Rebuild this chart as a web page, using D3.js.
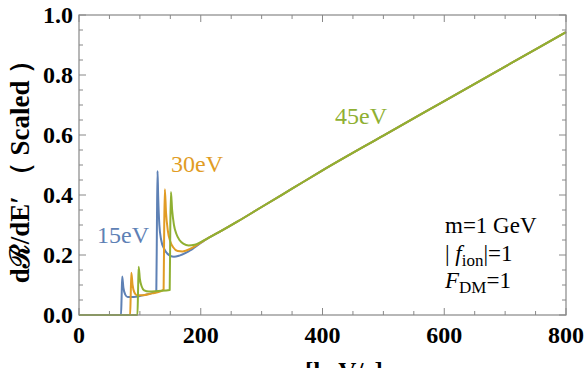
<!DOCTYPE html>
<html lang="en">
<head>
<meta charset="UTF-8">
<title>dR/dE' scaled</title>
<script src="https://d3js.org/d3.v7.min.js"></script>
<style>
  body { margin: 0; background: #fff; }
  svg { display: block; }
  .tick-label { font-family: "Liberation Serif", "DejaVu Serif", serif; font-weight: 700; font-size: 24px; fill: #000; }
  .note { font-family: "Liberation Serif", "DejaVu Serif", serif; font-size: 23px; fill: #000; }
</style>
</head>
<body>
<svg id="chart" width="586" height="368"></svg>
<script>
// curve data: momentum transfer (x) and scaled rate (y)
const blueE    = [0, 69, 70, 71, 73, 76, 80, 90, 100, 110, 120, 127, 128, 129, 130, 132, 135, 140, 145, 150, 156, 165, 180, 200];
const blueRate = [0, 0, 0.06, 0.128, 0.09, 0.068, 0.06, 0.06, 0.063, 0.068, 0.073, 0.078, 0.3, 0.48, 0.4, 0.3, 0.25, 0.22, 0.205, 0.197, 0.194, 0.198, 0.212, 0.24];

const orangeE    = [0, 84, 85, 86, 88, 91, 95, 105, 120, 135, 139, 140, 141, 143, 146, 150, 155, 162, 170, 185, 200];
const orangeRate = [0, 0, 0.07, 0.141, 0.1, 0.075, 0.066, 0.066, 0.072, 0.08, 0.085, 0.3, 0.419, 0.34, 0.28, 0.245, 0.225, 0.213, 0.212, 0.223, 0.241];

const greenE    = [0, 96, 97, 98, 100, 103, 107, 115, 130, 149, 150, 151, 153, 156, 160, 165, 172, 180, 190, 200];
const greenRate = [0, 0, 0.08, 0.161, 0.12, 0.095, 0.082, 0.078, 0.08, 0.083, 0.3, 0.41, 0.35, 0.3, 0.27, 0.25, 0.237, 0.232, 0.234, 0.243];

// shared part above ~200
const tailE    = [210, 230, 260, 300, 350, 400, 500, 600, 700, 800];
const tailRate = [0.254, 0.276, 0.311, 0.36, 0.421, 0.482, 0.598, 0.713, 0.828, 0.943];

const seriesNames  = ["15eV", "30eV", "45eV"];
const seriesColors = ["#5e81b5", "#e19c24", "#8fb032"];

const xTicks = [0, 200, 400, 600, 800];
const yTicks = [0, 0.2, 0.4, 0.6, 0.8, 1.0];

const svg = d3.select("#chart");
const margin = { left: 79, right: 20, top: 15, bottom: 53 };
const W = 586, H = 368;

const x = d3.scaleLinear().domain([0, 800]).range([margin.left, W - margin.right]);
const y = d3.scaleLinear().domain([0, 1]).range([H - margin.bottom, margin.top]);

const frameColor = "#888";

// ticks (inward, on all four sides)
const minorX = d3.range(0, 801, 50);
const minorY = d3.range(0, 1.001, 0.05);
const tk = svg.append("g").attr("stroke", frameColor).attr("stroke-width", 1);
minorX.forEach(v => {
  const len = v % 200 === 0 ? 7 : 4;
  tk.append("line").attr("x1", x(v)).attr("x2", x(v)).attr("y1", y(0)).attr("y2", y(0) - len);
  tk.append("line").attr("x1", x(v)).attr("x2", x(v)).attr("y1", y(1)).attr("y2", y(1) + len);
});
minorY.forEach(v => {
  const major = Math.abs(v * 5 - Math.round(v * 5)) < 1e-6;
  const len = major ? 7 : 4;
  tk.append("line").attr("x1", x(0)).attr("x2", x(0) + len).attr("y1", y(v)).attr("y2", y(v));
  tk.append("line").attr("x1", x(800)).attr("x2", x(800) - len).attr("y1", y(v)).attr("y2", y(v));
});

// curves
const line = d3.line().x(d => x(d[0])).y(d => y(d[1])).curve(d3.curveMonotoneX);
const seriesE = [blueE, orangeE, greenE];
const seriesRate = [blueRate, orangeRate, greenRate];
seriesE.forEach((es, i) => {
  const pts = es.map((e, j) => [e, seriesRate[i][j]])
    .concat(tailE.map((e, j) => [e, tailRate[j]]));
  svg.append("path")
    .datum(pts)
    .attr("fill", "none")
    .attr("stroke", seriesColors[i])
    .attr("stroke-width", 2)
    .attr("stroke-linejoin", "round")
    .attr("d", line);
});

// frame
svg.append("rect")
  .attr("x", x(0)).attr("y", y(1))
  .attr("width", x(800) - x(0)).attr("height", y(0) - y(1))
  .attr("fill", "none").attr("stroke", frameColor).attr("stroke-width", 1.2);

// tick labels
svg.selectAll(".xl").data(xTicks).enter().append("text")
  .attr("class", "tick-label")
  .attr("x", d => x(d)).attr("y", y(0) + 28)
  .attr("text-anchor", "middle")
  .text(d => d);
svg.selectAll(".yl").data(yTicks).enter().append("text")
  .attr("class", "tick-label")
  .attr("x", x(0) - 6).attr("y", d => y(d) + 8)
  .attr("text-anchor", "end")
  .text(d => d.toFixed(1));

// axis titles
svg.append("text")
  .attr("class", "tick-label")
  .style("font-size", "27px")
  .attr("transform", `translate(29, ${(y(0) + y(1)) / 2}) rotate(-90)`)
  .attr("text-anchor", "middle")
  .text("dℛ/dE′ （ Scaled ）");
svg.append("text")
  .attr("class", "tick-label")
  .style("font-size", "25px")
  .attr("x", 305).attr("y", 380)
  .text("[keV/c]");

// curve labels
const labelPos = [[97, 243], [171, 172], [335, 124]];
seriesNames.forEach((n, i) => {
  svg.append("text")
    .attr("class", "note")
    .style("font-size", "24px")
    .style("fill", seriesColors[i])
    .attr("x", labelPos[i][0]).attr("y", labelPos[i][1])
    .text(n);
});

// parameter notes
svg.append("text").attr("class", "note").attr("x", 445).attr("y", 233).text("m=1 GeV");
const f = svg.append("text").attr("class", "note").attr("x", 445).attr("y", 261);
f.append("tspan").text("|");
f.append("tspan").attr("font-style", "italic").text(" f");
f.append("tspan").attr("dy", 5).style("font-size", "17px").text("ion");
f.append("tspan").attr("dy", -5).text("|=1");
const F = svg.append("text").attr("class", "note").attr("x", 445).attr("y", 288);
F.append("tspan").attr("font-style", "italic").text("F");
F.append("tspan").attr("dy", 5).style("font-size", "17px").text("DM");
F.append("tspan").attr("dy", -5).text("=1");
</script>
</body>
</html>
